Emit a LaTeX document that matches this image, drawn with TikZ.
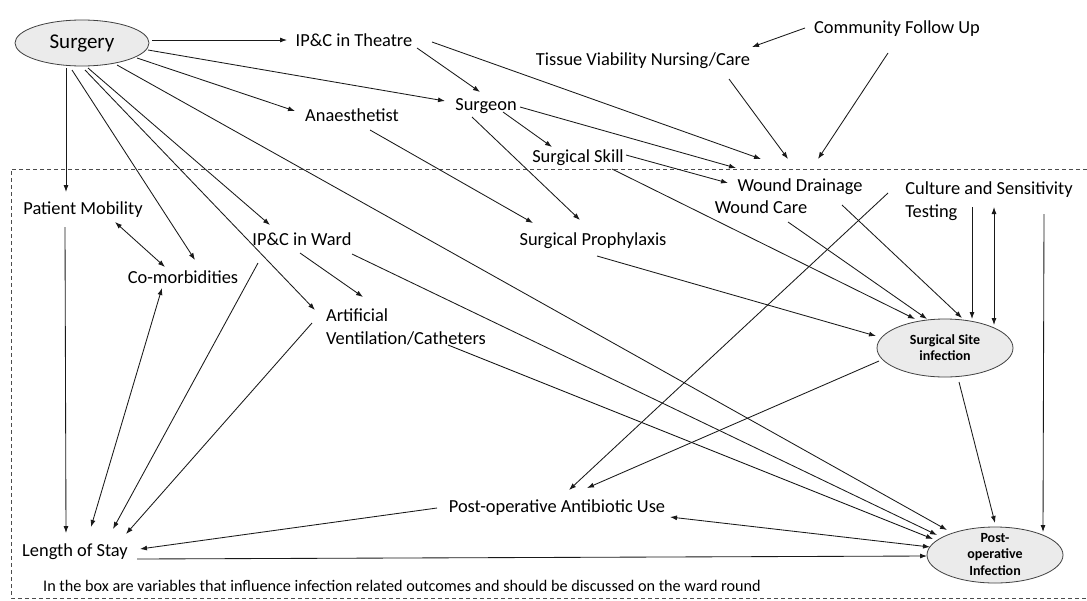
\documentclass[tikz,border=0pt]{standalone}
\usepackage{fontspec}
\setmainfont{Carlito}
\usetikzlibrary{shapes.geometric,arrows.meta,calc}
\begin{document}
\begin{tikzpicture}[x=1pt,y=-1pt,
  lbl/.style={inner sep=0pt, font=\fontsize{18.4}{22.5}\selectfont},
  oval/.style={ellipse, draw=black!75, fill=black!8, line width=0.8pt, inner sep=0pt},
  arr/.style={-{Latex[length=7pt,width=5pt]}, line width=0.85pt, draw=black!90},
  darr/.style={{Latex[length=7pt,width=5pt]}-{Latex[length=7pt,width=5pt]}, line width=0.85pt, draw=black!90},
  ibox/.style={dash pattern=on 4pt off 3pt, line width=0.8pt, draw=black!70}]
\fill[white] (0,0) rectangle (1087,600);
\useasboundingbox (0,0) rectangle (1087,600);
\draw[ibox] (1087,169) -- (11,169) -- (11,598) -- (1087,598);

% nodes
\node[oval, minimum width=134pt, minimum height=46pt, font=\fontsize{21}{25}\selectfont] (surg) at (82,43) {Surgery};
\node[lbl] (ipct) at (354,40) {IP\&C in Theatre};
\node[lbl] (anae) at (352,115) {Anaesthetist};
\node[lbl] (surgeon) at (486,106) {Surgeon};
\node[lbl] (tvn) at (643,61) {Tissue Viability Nursing/Care};
\node[lbl] (cfu) at (897,29) {Community Follow Up};
\node[lbl] (sskill) at (578,158) {Surgical Skill};
\node[lbl] (wdrain) at (800,187) {Wound Drainage};
\node[lbl] (wcare) at (761,207) {Wound Care};
\node[lbl, align=left] (cst) at (989,201) {Culture and Sensitivity\\Testing};
\node[lbl] (pmob) at (83,210) {Patient Mobility};
\node[lbl] (ipcw) at (302,239) {IP\&C in Ward};
\node[lbl] (comorb) at (183,277) {Co-morbidities};
\node[lbl] (sproph) at (593,241) {Surgical Prophylaxis};
\node[lbl, align=left] (artv) at (406,327) {Artificial\\Ventilation/Catheters};
\node[oval, minimum width=136pt, minimum height=58pt, align=center, font=\bfseries\fontsize{14}{16}\selectfont] (ssi) at (945,348) {Surgical Site\\infection};
\node[lbl] (abx) at (557,508) {Post-operative Antibiotic Use};
\node[lbl] (los) at (75,552) {Length of Stay};
\node[oval, minimum width=136pt, minimum height=56pt, font=\bfseries\fontsize{14}{16.5}\selectfont] (poi) at (995,555) {\raisebox{-4pt}[0pt][0pt]{\begin{tabular}{@{}c@{}}Post-\\operative\\Infection\end{tabular}}};
\node[inner sep=0pt, font=\fontsize{16.2}{19}\selectfont] (note) at (402,586) {In the box are variables that influence infection related outcomes and should be discussed on the ward round};

\coordinate (hubA) at (761,159);
\coordinate (hubB) at (788,159);
\coordinate (hubC) at (818,159);
\coordinate (hubS) at (736,168);

% connectors
\draw[arr] ($(surg)+(70,-3)$) -- ($(ipct)+(-67,0)$);
\draw[arr] ($(surg)+(66,7)$) -- ($(surgeon)+(-41,-5)$);
\draw[arr] ($(surg)+(55,15)$) -- ($(anae)+(-57,-4)$);
\draw[arr] ($(surg)+(-16,25)$) -- ($(pmob)+(-17,-18)$);
\draw[arr] ($(surg)+(-10,27)$) -- ($(comorb)+(12,-17)$);
\draw[arr] ($(surg)+(3,27)$) -- ($(artv)+(-91,-17)$);
\draw[arr] ($(surg)+(6,25)$) -- ($(ipcw)+(-32,-14)$);
\draw[arr] ($(surg)+(35,22)$) -- ($(poi)+(-48,-25)$);
\draw[arr] ($(ipct)+(63,8)$) -- ($(surgeon)+(-6,-14)$);
\draw[arr] ($(ipct)+(78,2)$) -- (hubA);
\draw[arr] ($(surgeon)+(17,6)$) -- ($(sskill)+(-26,-11)$);
\draw[arr] ($(surgeon)+(34,1)$) -- (hubS);
\draw[arr] ($(surgeon)+(-14,11)$) -- ($(sproph)+(-13,-21)$);
\draw[arr] ($(anae)+(18,15)$) -- ($(sproph)+(-60,-18)$);
\draw[arr] ($(cfu)+(-92,-1)$) -- ($(tvn)+(109,-14)$);
\draw[arr] ($(tvn)+(86,18)$) -- (hubB);
\draw[arr] ($(cfu)+(-9,24)$) -- (hubC);
\draw[arr] ($(sskill)+(48,-3)$) -- ($(wdrain)+(-72,-4)$);
\draw[arr] ($(sskill)+(34,11)$) -- ($(ssi)+(-30,-29)$);
\draw[arr] ($(wcare)+(27,15)$) -- ($(ssi)+(-18,-29)$);
\draw[arr] ($(wdrain)+(42,18)$) -- ($(ssi)+(17,-30)$);
\draw[arr] ($(cst)+(-17,6)$) -- ($(ssi)+(27,-29)$);
\draw[darr] ($(cst)+(5,6)$) -- ($(ssi)+(49,-23)$);
\draw[arr] ($(cst)+(55,13)$) -- ($(poi)+(48,-23)$);
\draw[arr] ($(cst)+(-101,-8)$) -- ($(abx)+(12,-18)$);
\draw[arr] ($(sproph)+(4,15)$) -- ($(ssi)+(-69,-12)$);
\draw[arr] ($(ssi)+(-66,13)$) -- ($(abx)+(30,-20)$);
\draw[arr] ($(ssi)+(14,34)$) -- ($(poi)+(0,-32)$);
\draw[darr] ($(pmob)+(32,12)$) -- ($(comorb)+(-18,-10)$);
\draw[arr] ($(pmob)+(-18,17)$) -- ($(los)+(-9,-19)$);
\draw[darr] ($(comorb)+(-21,11)$) -- ($(los)+(16,-25)$);
\draw[arr] ($(ipcw)+(-44,24)$) -- ($(los)+(38,-23)$);
\draw[arr] ($(artv)+(-94,-4)$) -- ($(los)+(51,-18)$);
\draw[arr] ($(ipcw)+(-2,14)$) -- ($(artv)+(-43,-30)$);
\draw[arr] ($(ipcw)+(50,15)$) -- ($(poi)+(-58,-20)$);
\draw[arr] ($(artv)+(42,18)$) -- ($(poi)+(-62,-16)$);
\draw[darr] ($(abx)+(113,9)$) -- ($(poi)+(-65,-8)$);
\draw[arr] ($(abx)+(-120,0)$) -- ($(los)+(65,-3)$);
\draw[arr] ($(los)+(62,7)$) -- ($(poi)+(-68,1)$);
\end{tikzpicture}
\end{document}
